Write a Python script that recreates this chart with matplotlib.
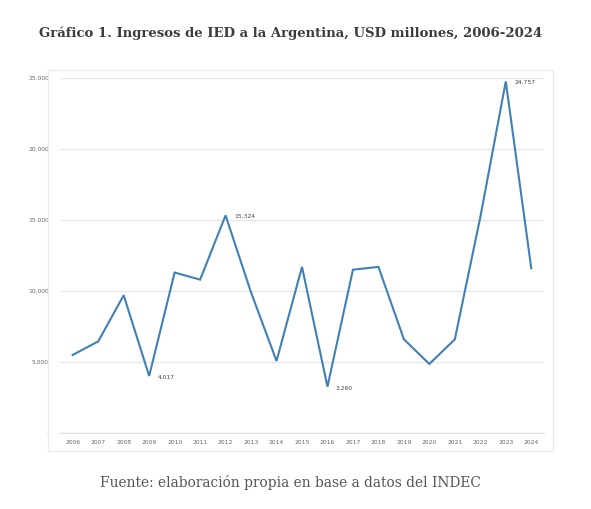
import matplotlib
matplotlib.use('Agg')
from matplotlib import pyplot as plt
from matplotlib.patches import Rectangle

# Datos (USD millones)
years = list(range(2006, 2025))
ied = [5500, 6450, 9700, 4017, 11300, 10800, 15324, 9900, 5070, 11700,
       3260, 11500, 11700, 6600, 4860, 6600, 15200, 24757, 11600]
labelled = {2009: '4.017', 2012: '15.324', 2016: '3.260', 2023: '24.757'}
yticks = [0, 5000, 10000, 15000, 20000, 25000]
ytick_labels = ['-', '5.000', '10.000', '15.000', '20.000', '25.000']

W, H = 591, 509
fig = plt.figure(figsize=(W / 100, H / 100), dpi=100)
fig.patch.set_facecolor('white')

# marco de la imagen embebida
fig.add_artist(Rectangle((48 / W, 1 - 451 / H), 505 / W, 381 / H,
                         transform=fig.transFigure, fill=False,
                         edgecolor='#ececec', lw=1.0))

ax = fig.add_axes([60 / W, 1 - 433 / H, 484 / W, 355 / H])
ax.plot(years, ied, color='#4080b6', lw=1.5, solid_joinstyle='miter')
ax.set_xlim(2005.5, 2024.5)
ax.set_ylim(0, 25000)
ax.set_yticks(yticks)
ax.set_yticklabels(ytick_labels)
ax.set_xticks(years)
ax.set_xticklabels([str(y) for y in years])
ax.tick_params(length=0, labelsize=4.3, labelcolor='#666666')
ax.tick_params(axis='y', pad=8)
ax.tick_params(axis='x', pad=5)
ax.grid(axis='y', color='#e8e8e8', lw=1.0)
ax.set_axisbelow(True)
for s in ['top', 'right', 'left']:
    ax.spines[s].set_visible(False)
ax.spines['bottom'].set_color('#e0e0e0')

for yr, txt in labelled.items():
    ax.annotate(txt, (yr, ied[years.index(yr)]), xytext=(6, -1),
                textcoords='offset points', fontsize=4.3, color='#444444',
                va='center', ha='left')

fig.text(290.5 / W, 1 - 33 / H,
         'Gráfico 1. Ingresos de IED a la Argentina, USD millones, 2006-2024',
         ha='center', va='center', fontsize=9.5, fontweight='bold',
         family='DejaVu Serif', color='#3c3c3c')
fig.text(290 / W, 1 - 483 / H,
         'Fuente: elaboración propia en base a datos del INDEC',
         ha='center', va='center', fontsize=9.9, family='DejaVu Serif',
         color='#555555')

fig.savefig('out.png', dpi=100)
